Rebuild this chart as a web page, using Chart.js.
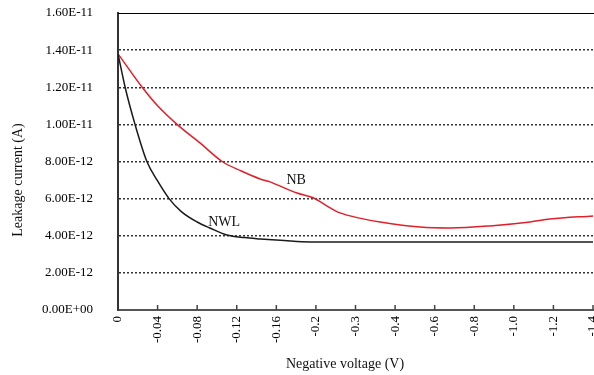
<!DOCTYPE html>
<html>
<head>
<meta charset="utf-8">
<script src="https://cdn.jsdelivr.net/npm/chart.js@4/dist/chart.umd.min.js"></script>
<style>
  body { margin: 0; background: #fff; }
</style>
</head>
<body>
<canvas id="chart" width="594" height="375"></canvas>
<script>
// x is measured in category steps along the axis (one step per tick label)
const xTickLabels = ["0", "-0.04", "-0.08", "-0.12", "-0.16", "-0.2", "-0.3", "-0.4", "-0.6", "-0.8", "-1.0", "-1.2", "-1.4"];

const nwlX = [0, 0.18, 0.43, 0.73, 1.0, 1.29, 1.6, 2.0, 2.32, 2.75, 3.2, 3.59, 4.2, 4.85, 6, 8, 10, 12];
const nwlY = [13.8e-12, 12.0e-12, 10.0e-12, 8.0e-12, 6.95e-12, 6.0e-12, 5.3e-12, 4.74e-12, 4.42e-12, 4.04e-12, 3.9e-12, 3.83e-12, 3.74e-12, 3.67e-12, 3.67e-12, 3.67e-12, 3.67e-12, 3.67e-12];

const nbX = [0, 0.61, 1.0, 1.49, 2.07, 2.63, 3.1, 3.59, 3.84, 4.02, 4.52, 4.93, 5.36, 5.61, 6.1, 6.62, 7.63, 8.39, 9.4, 10.41, 10.91, 12];
const nbY = [13.8e-12, 12.0e-12, 11.0e-12, 10.0e-12, 9.0e-12, 8.0e-12, 7.5e-12, 7.06e-12, 6.9e-12, 6.74e-12, 6.3e-12, 6.05e-12, 5.5e-12, 5.23e-12, 4.95e-12, 4.74e-12, 4.47e-12, 4.42e-12, 4.53e-12, 4.74e-12, 4.9e-12, 5.07e-12];

const seriesNames = ["NWL", "NB"];
const labelX = [2.68, 4.5];
const labelY = [4.7e-12, 7.0e-12];

const serif = "'Liberation Serif', 'Times New Roman', serif";

function sci(v) {
  if (Math.abs(v) < 1e-20) return "0.00E+00";
  const parts = v.toExponential(2).toUpperCase().split("E");
  const exp = parseInt(parts[1], 10);
  const sign = exp < 0 ? "-" : "+";
  return parts[0] + "E" + sign + String(Math.abs(exp)).padStart(2, "0");
}

function noPad(s) {
  s.paddingLeft = 0;
  s.paddingRight = 0;
  s.paddingTop = 0;
  s.paddingBottom = 0;
}

const extras = {
  id: "extras",
  afterDraw(chart) {
    const ctx = chart.ctx;
    const area = chart.chartArea;
    const xs = chart.scales.x;
    const ys = chart.scales.y;
    ctx.save();
    // top frame line
    ctx.strokeStyle = "#000";
    ctx.lineWidth = 1;
    ctx.beginPath();
    ctx.moveTo(area.left, area.top + 0.5);
    ctx.lineTo(area.right + 1, area.top + 0.5);
    ctx.stroke();
    // inner tick marks on the x axis
    ctx.strokeStyle = "#444";
    ctx.lineWidth = 1.5;
    xs.ticks.forEach((t) => {
      if (t.value === 0) return;
      const px = xs.getPixelForValue(t.value);
      ctx.beginPath();
      ctx.moveTo(px, area.bottom);
      ctx.lineTo(px, area.bottom - 5);
      ctx.stroke();
    });
    // series labels
    ctx.fillStyle = "#111";
    ctx.font = "14px " + serif;
    ctx.textAlign = "center";
    ctx.textBaseline = "middle";
    seriesNames.forEach((n, i) => {
      ctx.fillText(n, xs.getPixelForValue(labelX[i]), ys.getPixelForValue(labelY[i]));
    });
    // axis titles
    ctx.fillText("Negative voltage (V)", 345, 364);
    ctx.translate(18, 180);
    ctx.rotate(-Math.PI / 2);
    ctx.fillText("Leakage current (A)", 0, 0);
    ctx.restore();
  }
};

new Chart(document.getElementById("chart"), {
  type: "line",
  data: {
    datasets: [
      {
        label: "NWL",
        data: nwlX.map((x, i) => ({ x: x, y: nwlY[i] })),
        borderColor: "#1a1a1a",
        borderWidth: 1.5,
        pointRadius: 0,
        tension: 0.4,
        cubicInterpolationMode: "monotone"
      },
      {
        label: "NB",
        data: nbX.map((x, i) => ({ x: x, y: nbY[i] })),
        borderColor: "#e0202a",
        borderWidth: 1.5,
        pointRadius: 0,
        tension: 0.4,
        cubicInterpolationMode: "monotone"
      }
    ]
  },
  options: {
    responsive: false,
    animation: false,
    layout: { padding: { top: 13, right: 1, left: 0, bottom: 0 } },
    plugins: {
      legend: { display: false },
      tooltip: { enabled: false }
    },
    scales: {
      x: {
        type: "linear",
        min: 0,
        max: 12,
        afterFit: (s) => { s.height = 65; noPad(s); },
        ticks: {
          stepSize: 1,
          autoSkip: false,
          maxRotation: 90,
          minRotation: 90,
          padding: 6,
          color: "#000",
          font: { family: serif, size: 13 },
          callback: (v) => xTickLabels[v]
        },
        grid: { display: false, drawTicks: false },
        border: { display: true, color: "#555", width: 2 }
      },
      y: {
        min: 0,
        max: 1.6e-11,
        afterFit: (s) => { s.width = 118; noPad(s); },
        ticks: {
          stepSize: 2e-12,
          padding: 25,
          color: "#000",
          font: { family: serif, size: 13 },
          callback: (v) => sci(v)
        },
        grid: {
          drawTicks: false,
          lineWidth: 1.5,
          color: (c) => (c.tick && (c.tick.value <= 0 || c.tick.value >= 1.59e-11)) ? "rgba(0,0,0,0)" : "#333"
        },
        border: { display: true, color: "#333", width: 2, dash: [2, 2] }
      }
    }
  },
  plugins: [extras]
});
</script>
</body>
</html>
